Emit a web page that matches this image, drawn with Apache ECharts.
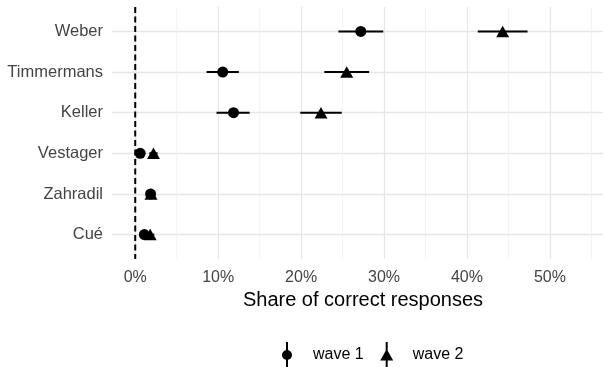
<!DOCTYPE html>
<html>
<head>
<meta charset="utf-8">
<script src="https://cdn.jsdelivr.net/npm/echarts@6/dist/echarts.min.js"></script>
<style>html,body{margin:0;padding:0;background:#fff}#c{width:605px;height:367px}</style>
</head>
<body>
<div id="c"></div>
<script>
const categories = ['Weber', 'Timmermans', 'Keller', 'Vestager', 'Zahradil', 'Cué'];
const wave1 = [27.2, 10.55, 11.85, 0.6, 1.85, 1.1];
const wave1Low = [24.5, 8.6, 9.8, 0.3, 1.45, 0.7];
const wave1High = [29.9, 12.5, 13.8, 1.0, 2.25, 1.5];
const wave2 = [44.3, 25.5, 22.4, 2.2, 1.9, 1.8];
const wave2Low = [41.3, 22.8, 19.9, 1.7, 1.4, 1.3];
const wave2High = [47.3, 28.2, 24.9, 2.7, 2.4, 2.3];
const xMinorTicks = [5, 15, 25, 35, 45, 55];
const refLine = [0];
const seriesNames = ['wave 1', 'wave 2'];

const FONT = 'Liberation Sans, Arial, sans-serif';
const n = categories.length;
const yOf = i => n - i;

function pts(vals, lo, hi) {
  return vals.map((v, i) => [v, yOf(i), lo[i], hi[i]]);
}

function errRender(params, api) {
  const y = api.value(1);
  const a = api.coord([api.value(2), y]);
  const b = api.coord([api.value(3), y]);
  return { type: 'line', shape: { x1: a[0], y1: a[1], x2: b[0], y2: b[1] },
    style: { stroke: '#000', lineWidth: 2 } };
}
function vlineRender(style) {
  return function (params, api) {
    const cs = params.coordSys;
    const p = api.coord([api.value(0), 1]);
    return { type: 'line', shape: { x1: p[0], y1: cs.y, x2: p[0], y2: cs.y + cs.height }, style: style };
  };
}

const iconCircle = 'path://M0,0 L0.01,0 L0,0.01 Z M42,26 L41.99,26 L42,25.99 Z M20,0 L22,0 L22,26 L20,26 Z M16,13 A5,5 0 1,1 26,13 A5,5 0 1,1 16,13 Z';
const iconTri = 'path://M0,0 L0.01,0 L0,0.01 Z M42,26 L41.99,26 L42,25.99 Z M20,0 L22,0 L22,26 L20,26 Z M21,7 L27.5,18.5 L14.5,18.5 Z';

const chart = echarts.init(document.getElementById('c'), null, { renderer: 'canvas' });
chart.setOption({
  animation: false,
  backgroundColor: '#fff',
  textStyle: { fontFamily: FONT },
  grid: { left: 112, right: 2, top: 7, bottom: 108, containLabel: false },
  xAxis: {
    type: 'value', min: -2.8, max: 56.4,
    axisLine: { show: false }, axisTick: { show: false },
    axisLabel: { formatter: v => v + '%', color: '#444', fontSize: 16, margin: 11, fontFamily: FONT,
      showMinLabel: false, showMaxLabel: false },
    splitLine: { show: true, showMinLine: false, showMaxLine: false, lineStyle: { color: '#e6e6e6', width: 1.3 } },
    name: 'Share of correct responses', nameLocation: 'middle', nameGap: 29,
    nameTextStyle: { fontSize: 20, color: '#000', fontFamily: FONT, padding: [0, 0, 0, 11] }
  },
  yAxis: {
    type: 'value', min: 0.4, max: n + 0.6, minInterval: 1, maxInterval: 1,
    axisLine: { show: false }, axisTick: { show: false },
    axisLabel: { formatter: v => (Number.isInteger(v) && v >= 1 && v <= n) ? categories[n - v] : '',
      color: '#444', fontSize: 16.5, margin: 9, fontFamily: FONT, showMinLabel: false, showMaxLabel: false },
    splitLine: { show: true, showMinLine: false, showMaxLine: false, lineStyle: { color: '#e6e6e6', width: 1.3 } }
  },
  legend: {
    left: 261, top: 337, itemWidth: 42, itemHeight: 26, itemGap: 2,
    textStyle: { fontSize: 16, color: '#000', fontFamily: FONT },
    data: [{ name: seriesNames[0], icon: iconCircle }, { name: seriesNames[1], icon: iconTri }],
    selectedMode: false
  },
  series: [
    { type: 'custom', name: 'minor', silent: true, z: 1, data: xMinorTicks.map(v => [v]),
      renderItem: vlineRender({ stroke: '#efefef', lineWidth: 0.8 }) },
    { type: 'custom', name: 'ref', silent: true, z: 2, data: refLine.map(v => [v]),
      renderItem: vlineRender({ stroke: '#000', lineWidth: 2, lineDash: [6, 3.5] }) },
    { type: 'custom', name: seriesNames[0], z: 3, color: '#000', data: pts(wave1, wave1Low, wave1High), renderItem: errRender },
    { type: 'scatter', name: seriesNames[0], z: 4, color: '#000', symbol: 'circle', symbolSize: 11,
      itemStyle: { opacity: 1, color: '#000' }, data: pts(wave1, wave1Low, wave1High) },
    { type: 'custom', name: seriesNames[1], z: 5, color: '#000', data: pts(wave2, wave2Low, wave2High), renderItem: errRender },
    { type: 'scatter', name: seriesNames[1], z: 6, color: '#000', symbol: 'triangle', symbolSize: [13, 11.5],
      itemStyle: { opacity: 1, color: '#000' }, data: pts(wave2, wave2Low, wave2High) }
  ]
});
</script>
</body>
</html>
